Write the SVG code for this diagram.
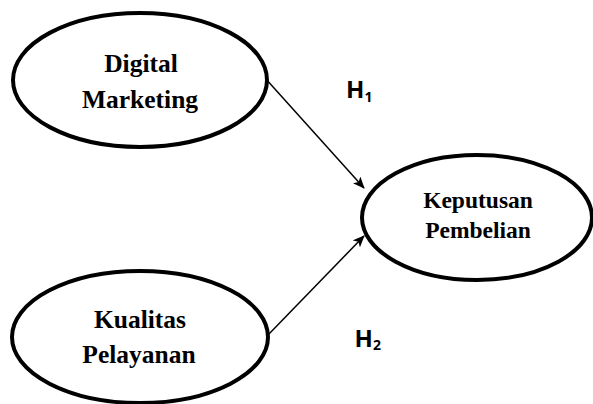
<svg xmlns="http://www.w3.org/2000/svg" width="593" height="404" viewBox="0 0 593 404">
  <defs>
    <marker id="arrow" viewBox="0 0 12 10" refX="11" refY="5" markerWidth="12" markerHeight="10" markerUnits="userSpaceOnUse" orient="auto">
      <path d="M0,0 L12,5 L0,10 L3,5 Z" fill="#000"/>
    </marker>
  </defs>
  <style>
    .node ellipse { fill: #fff; stroke: #000; stroke-width: 4; }
    .label { font-family: "Liberation Serif", "Times New Roman", serif; font-weight: bold; fill: #000; text-anchor: middle; }
    .hyp { font-family: "Open Sans", "Liberation Sans", sans-serif; font-weight: bold; fill: #000; }
    .edge { stroke: #000; stroke-width: 1.5; fill: none; }
  </style>
  <rect width="593" height="404" fill="#fff"/>

  <g id="connectors">
    <line class="edge" x1="265" y1="78" x2="364" y2="188" marker-end="url(#arrow)"/>
    <line class="edge" x1="268" y1="335" x2="364" y2="236" marker-end="url(#arrow)"/>
  </g>

  <g id="node-digital-marketing" class="node">
    <ellipse cx="140" cy="80" rx="127" ry="67"/>
    <text class="label" x="141" y="72" font-size="25.5">Digital</text>
    <text class="label" x="140" y="108" font-size="25.5">Marketing</text>
  </g>

  <g id="node-kualitas-pelayanan" class="node">
    <ellipse cx="140" cy="337" rx="128" ry="66"/>
    <text class="label" x="140" y="328" font-size="25.5">Kualitas</text>
    <text class="label" x="139" y="363" font-size="25.5">Pelayanan</text>
  </g>

  <g id="node-keputusan-pembelian" class="node">
    <ellipse cx="477" cy="217.5" rx="115" ry="62.5"/>
    <text class="label" x="478" y="208" font-size="23.5">Keputusan</text>
    <text class="label" x="478" y="238" font-size="23.5">Pembelian</text>
  </g>

  <g id="hypothesis-labels">
    <text class="hyp" x="346" y="97.5" font-size="24">H<tspan font-size="14" dy="4">1</tspan></text>
    <text class="hyp" x="354.5" y="346.5" font-size="24">H<tspan font-size="14" dy="3.5">2</tspan></text>
  </g>
</svg>
